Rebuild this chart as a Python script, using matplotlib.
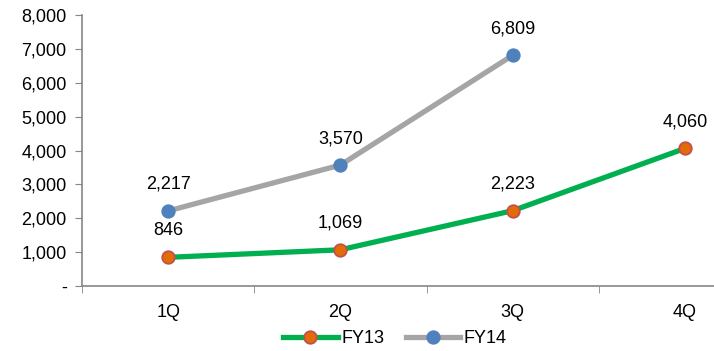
import matplotlib.pyplot as plt
import numpy as np

plt.rcParams['font.family'] = ['Liberation Sans', 'DejaVu Sans']

quarters = ['1Q', '2Q', '3Q', '4Q']
fy13 = [846, 1069, 2223, 4060]
fy14 = [2217, 3570, 6809]
yticks = [0, 1000, 2000, 3000, 4000, 5000, 6000, 7000, 8000]

fig = plt.figure(figsize=(7.14, 3.51), dpi=100)
ax = fig.add_axes([82 / 714, 65 / 351, 689 / 714, 271 / 351])

x13 = np.arange(len(fy13))
x14 = np.arange(len(fy14))
ax.plot(x13, fy13, color='#00B050', lw=3.8, marker='o', ms=9,
        mfc='#E36C09', mec='#C0504D', mew=1.3, label='FY13', zorder=3)
ax.plot(x14, fy14, color='#A5A5A5', lw=3.8, marker='o', ms=9,
        mfc='#4F81BD', mec='#4F81BD', mew=1.3, label='FY14', zorder=3)

# value labels above each point
for xs, ys in ((x13, fy13), (x14, fy14)):
    for x, y in zip(xs, ys):
        ax.annotate(f'{y:,}', (x, y), xytext=(0, 13), textcoords='offset points',
                    ha='center', va='bottom', fontsize=13, color='#000000')

ax.set_xlim(-0.5, len(quarters) - 0.5)
ax.set_ylim(0, 8000)
ax.set_yticks(yticks)
ax.set_yticklabels(['-' if v == 0 else f'{v:,}' for v in yticks])
ax.set_xticks(x13)
ax.set_xticklabels(quarters)
ax.set_xticks(np.arange(len(quarters) + 1) - 0.5, minor=True)
ax.tick_params(axis='x', which='major', length=0, pad=13, labelsize=13)
ax.tick_params(axis='x', which='minor', length=5, color='#868686')
ax.tick_params(axis='y', length=5, color='#868686', labelsize=13, pad=6)

for s in ('top', 'right'):
    ax.spines[s].set_visible(False)
for s in ('left', 'bottom'):
    ax.spines[s].set_color('#868686')
    ax.spines[s].set_linewidth(1.2)

fig.legend(loc='lower center', bbox_to_anchor=(395 / 714, -0.035), ncol=2,
           frameon=False, fontsize=13, handlelength=3.0, columnspacing=1.2,
           handletextpad=0.2)

fig.savefig('out.png', dpi=100)
